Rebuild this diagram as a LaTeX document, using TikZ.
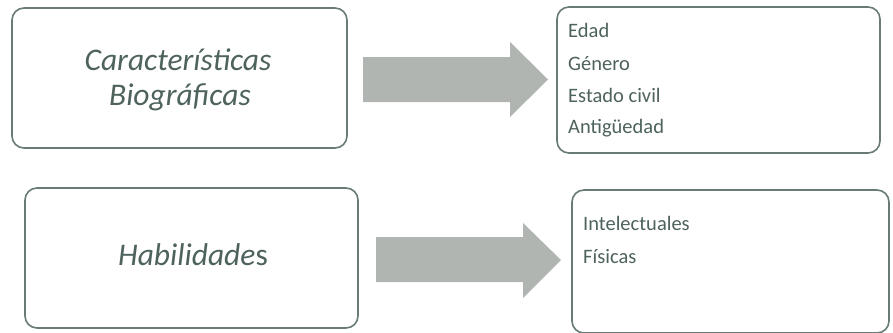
\documentclass[tikz,border=0pt]{standalone}
\usepackage{fontspec}
\setmainfont{Carlito}
\definecolor{boxline}{RGB}{104,124,116}
\definecolor{txt}{RGB}{78,98,94}
\definecolor{arrowfill}{RGB}{176,181,178}
\begin{document}
\begin{tikzpicture}[x=1pt,y=-1pt,
  roundbox/.style={draw=boxline,line width=1.6pt,rounded corners=12pt,fill=white},
  title/.style={font=\fontsize{31.5}{36}\selectfont\itshape,text=txt,anchor=base,inner sep=0pt},
  item/.style={font=\fontsize{20.5}{22}\selectfont,text=txt,anchor=base west,inner sep=0pt},
  blockarrow/.style={fill=arrowfill,draw=none}]
\useasboundingbox (0,0) rectangle (893,332);
% boxes
\draw[roundbox] (12,8) rectangle (347,148);
\draw[roundbox] (557,7) rectangle (880,153);
\draw[roundbox] (25,188) rectangle (358,328);
\draw[roundbox] (572,190) rectangle (889,333);
% titles
\node[title] (t1a) at (178,70) {Características};
\node[title] (t1b) at (180,105) {Biográficas};
\node[title] (t2) at (193,265) {Habilidade\upshape s};
% lists
\node[item] (e1) at (568,37) {Edad};
\node[item] (e2) at (568,70) {Género};
\node[item] (e3) at (568,102) {Estado civil};
\node[item] (e4) at (568,133) {Antigüedad};
\node[item] (h1) at (583,230) {Intelectuales};
\node[item] (h2) at (583,263) {Físicas};
% arrows
\fill[blockarrow] (363,57) -- (510,57) -- (510,42) -- (548,79.5) -- (510,117) -- (510,102) -- (363,102) -- cycle;
\fill[blockarrow] (376,237) -- (523,237) -- (523,223) -- (561,260) -- (523,298) -- (523,282) -- (376,282) -- cycle;
\end{tikzpicture}
\end{document}
